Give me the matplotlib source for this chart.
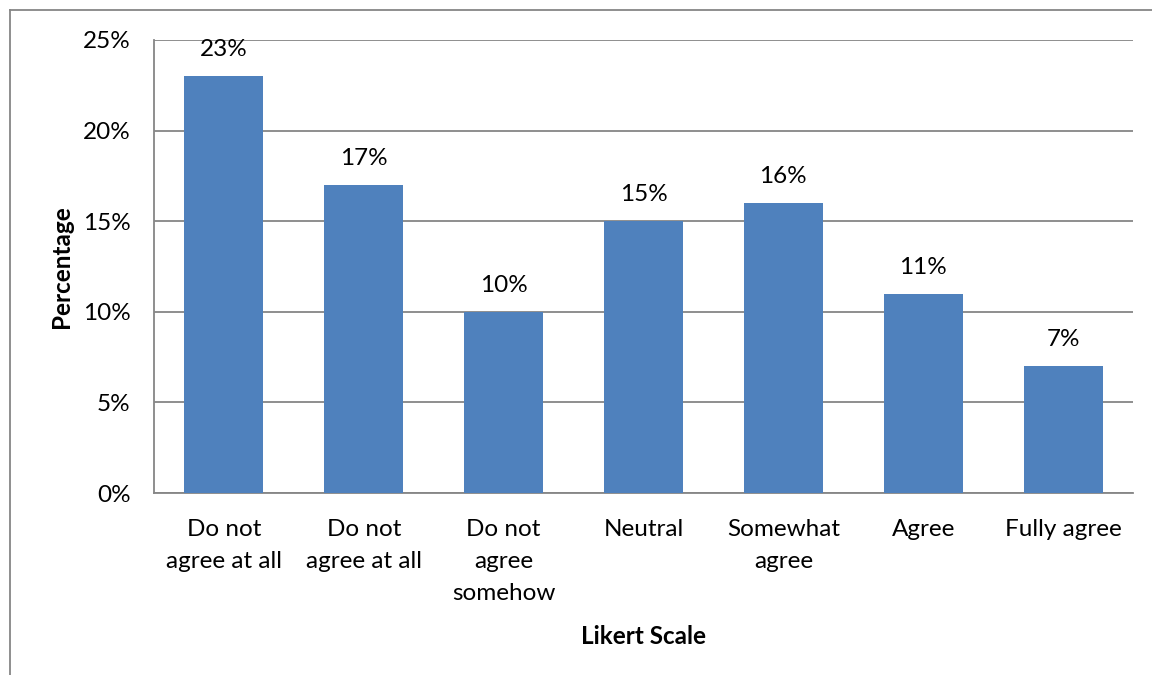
import matplotlib
matplotlib.use("Agg")
import matplotlib.pyplot as plt
from matplotlib.lines import Line2D
from matplotlib.ticker import FuncFormatter, MultipleLocator

categories = ["Do not\nagree at all", "Do not\nagree at all", "Do not\nagree\nsomehow",
              "Neutral", "Somewhat\nagree", "Agree", "Fully agree"]
values = [23, 17, 10, 15, 16, 11, 7]
y_max = 25
y_step = 5

plt.rcParams['font.family'] = ['Lato', 'DejaVu Sans']
fs = 17.5
grey = '#868686'

fig = plt.figure(figsize=(11.52, 6.75), dpi=100)
ax = fig.add_axes([154/1152, 1-493/675, (1133-154)/1152, (493-40)/675])

x = list(range(len(categories)))
ax.bar(x, values, width=0.565, color='#4F81BD', zorder=3)
ax.set_xlim(-0.5, len(categories)-0.5)
ax.set_ylim(0, y_max)
ax.yaxis.set_major_locator(MultipleLocator(y_step))
ax.yaxis.set_major_formatter(FuncFormatter(lambda v, p: f"{v:.0f}%"))
ax.grid(axis='y', color=grey, linewidth=1.3, zorder=0)
ax.set_axisbelow(True)
for s in ['top', 'right']:
    ax.spines[s].set_visible(False)
for s in ['left', 'bottom']:
    ax.spines[s].set_color(grey)
    ax.spines[s].set_linewidth(1.3)
ax.set_xticks(x)
ax.set_xticklabels(categories, fontsize=fs, linespacing=1.65, va='top')
ax.tick_params(axis='x', length=0, pad=18.5)
ax.tick_params(axis='y', length=0, pad=17, labelsize=fs)

for xi, v in zip(x, values):
    ax.annotate(f"{v}%", (xi, v), xytext=(0, 19), textcoords='offset points',
                ha='center', va='center', fontsize=fs)

ax.set_ylabel("Percentage", fontsize=fs, fontweight='bold', labelpad=7)
ax.set_xlabel("Likert Scale", fontsize=fs, fontweight='bold', labelpad=15)

fig.add_artist(Line2D([10/1152, 10/1152], [0, 1-10/675], transform=fig.transFigure, color=grey, linewidth=1.3))
fig.add_artist(Line2D([10/1152, 1], [1-10/675, 1-10/675], transform=fig.transFigure, color=grey, linewidth=1.3))

fig.savefig("out.png", dpi=100)
